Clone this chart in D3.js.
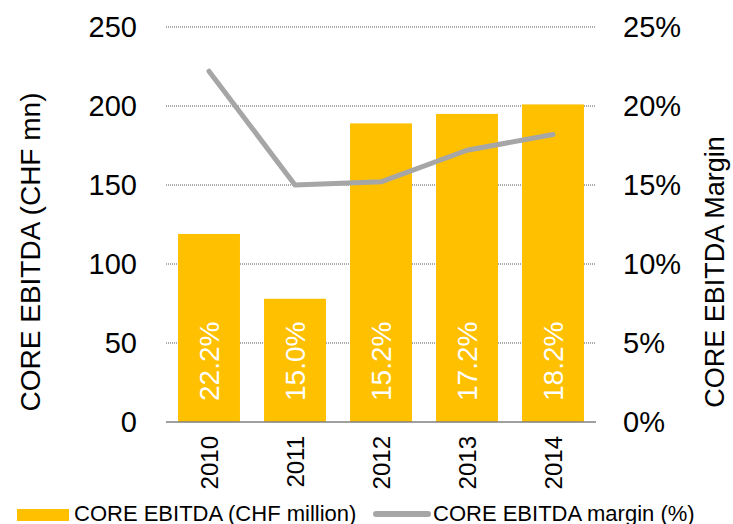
<!DOCTYPE html>
<html>
<head>
<meta charset="utf-8">
<script src="https://cdn.jsdelivr.net/npm/d3@7"></script>
<style>
  html, body { margin: 0; padding: 0; background: #fff; }
  svg { display: block; font-family: "Liberation Sans", Arial, sans-serif; }
</style>
</head>
<body>
<svg id="chart" width="733" height="524"></svg>
<script>
const categories = ["2010", "2011", "2012", "2013", "2014"];
const ebitda = [119, 78, 189, 195, 201];
const margin = [22.2, 15.0, 15.2, 17.2, 18.2];
const leftTicks = [0, 50, 100, 150, 200, 250];
const rightTicks = [0, 5, 10, 15, 20, 25];
const leftTitle = "CORE EBITDA (CHF mn)";
const rightTitle = "CORE EBITDA Margin";
const legendLabels = ["CORE EBITDA (CHF million)", "CORE EBITDA margin (%)"];

const svg = d3.select("#chart");
const plot = { left: 166, right: 596, top: 27, bottom: 422 };

const x = d3.scaleBand().domain(categories).range([plot.left, plot.right]).paddingInner(0.28).paddingOuter(0.14);
const yL = d3.scaleLinear().domain([0, 250]).range([plot.bottom, plot.top]);
const yR = d3.scaleLinear().domain([0, 25]).range([plot.bottom, plot.top]);

// gridlines
svg.append("g").selectAll("line").data(leftTicks.filter(d => d > 0)).join("line")
  .attr("x1", plot.left).attr("x2", plot.right)
  .attr("y1", d => yL(d)).attr("y2", d => yL(d))
  .attr("stroke", "#555").attr("stroke-width", 1).attr("stroke-dasharray", "1,1");

// bars
svg.append("g").selectAll("rect").data(ebitda).join("rect")
  .attr("x", (d, i) => x(categories[i]))
  .attr("width", x.bandwidth())
  .attr("y", d => yL(d))
  .attr("height", d => yL(0) - yL(d))
  .attr("fill", "#FFC000");

// baseline
svg.append("line")
  .attr("x1", plot.left).attr("x2", plot.right)
  .attr("y1", yL(0)).attr("y2", yL(0))
  .attr("stroke", "#808080").attr("stroke-width", 1.5);

// bar labels
svg.append("g").selectAll("text").data(margin).join("text")
  .attr("transform", (d, i) => `translate(${x(categories[i]) + x.bandwidth() / 2},${yL(0) - 21}) rotate(-90)`)
  .attr("text-anchor", "start")
  .attr("dominant-baseline", "central")
  .attr("fill", "#fff")
  .attr("font-size", 28)
  .text(d => d.toFixed(1) + "%");

// line
const line = d3.line()
  .x((d, i) => x(categories[i]) + x.bandwidth() / 2)
  .y(d => yR(d));
svg.append("path").datum(margin)
  .attr("d", line)
  .attr("fill", "none")
  .attr("stroke", "#A6A6A6")
  .attr("stroke-width", 5)
  .attr("stroke-linecap", "round")
  .attr("stroke-linejoin", "round");

// left axis
const axL = svg.append("g").attr("transform", `translate(${plot.left},0)`)
  .call(d3.axisLeft(yL).tickValues(leftTicks).tickSize(0).tickPadding(29));
axL.select(".domain").remove();
axL.selectAll("text").attr("font-size", 29).attr("fill", "#000").attr("font-family", "Liberation Sans, Arial, sans-serif");

// right axis
const axR = svg.append("g").attr("transform", `translate(${plot.right},0)`)
  .call(d3.axisRight(yR).tickValues(rightTicks).tickSize(0).tickPadding(27).tickFormat(d => d + "%"));
axR.select(".domain").remove();
axR.selectAll("text").attr("font-size", 29).attr("fill", "#000").attr("font-family", "Liberation Sans, Arial, sans-serif");

// x axis labels
svg.append("g").selectAll("text").data(categories).join("text")
  .attr("transform", d => `translate(${x(d) + x.bandwidth() / 2},${plot.bottom + 14}) rotate(-90)`)
  .attr("text-anchor", "end")
  .attr("dominant-baseline", "central")
  .attr("font-size", 24)
  .attr("fill", "#000")
  .text(d => d);

// axis titles
svg.append("text")
  .attr("transform", `translate(30,252) rotate(-90)`)
  .attr("text-anchor", "middle").attr("dominant-baseline", "central")
  .attr("font-size", 28).attr("fill", "#000")
  .text(leftTitle);
svg.append("text")
  .attr("transform", `translate(715,272) rotate(-90)`)
  .attr("text-anchor", "middle").attr("dominant-baseline", "central")
  .attr("font-size", 27).attr("fill", "#000")
  .text(rightTitle);

// legend
const lg = svg.append("g");
lg.append("rect").attr("x", 17).attr("y", 509).attr("width", 52).attr("height", 12).attr("fill", "#FFC000");
lg.append("text").attr("x", 74).attr("y", 521).attr("font-size", 22).attr("fill", "#000").text(legendLabels[0]);
lg.append("line").attr("x1", 376).attr("x2", 428).attr("y1", 514).attr("y2", 514)
  .attr("stroke", "#A6A6A6").attr("stroke-width", 6).attr("stroke-linecap", "round");
lg.append("text").attr("x", 433).attr("y", 521).attr("font-size", 22).attr("fill", "#000").text(legendLabels[1]);
</script>
</body>
</html>
